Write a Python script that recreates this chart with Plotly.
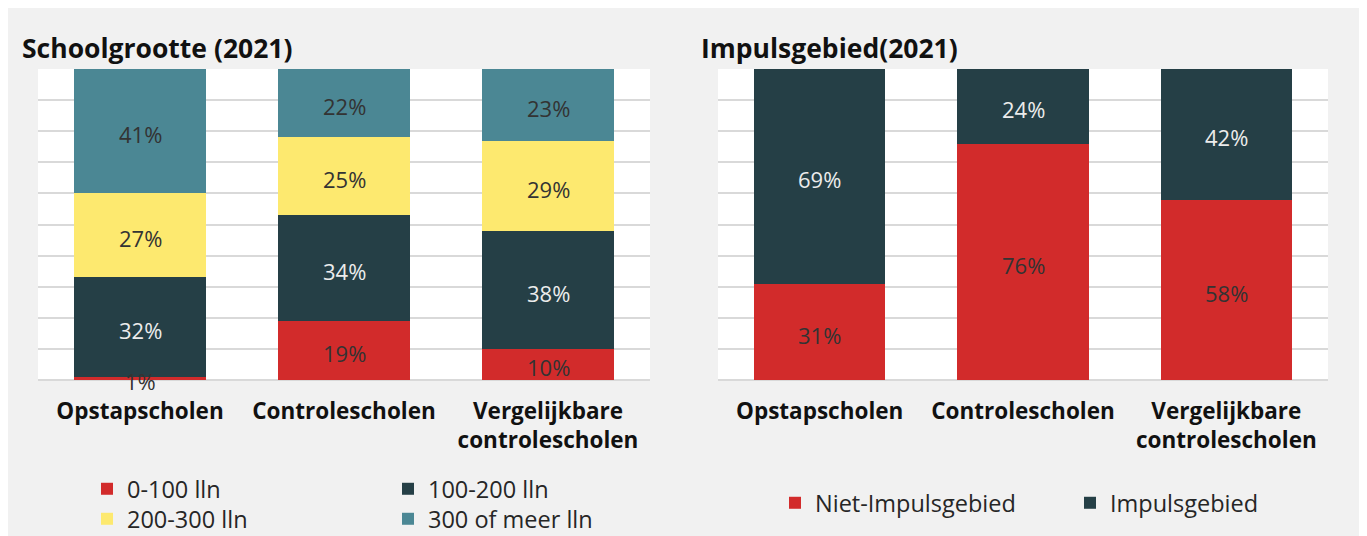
import plotly.graph_objects as go

OFF = 8  # page body margin
SW, SH = 1367, 536
W, H = SW - OFF, SH - OFF
# plot area in screen pixels
PX0, PX1, PY0, PY1 = 38, 1328, 69, 380
ML, MR, MT, MB = PX0 - OFF, SW - PX1, PY0 - OFF, SH - PY1

categories = ["Opstapscholen", "Controlescholen", "Vergelijkbare<br>controlescholen"]

# Schoolgrootte (2021)
size_names = ["0-100 lln", "100-200 lln", "200-300 lln", "300 of meer lln"]
size_0_100 = [1, 19, 10]
size_100_200 = [32, 34, 38]
size_200_300 = [27, 25, 29]
size_300_plus = [41, 22, 23]

# Impulsgebied (2021)
impuls_names = ["Niet-Impulsgebied", "Impulsgebied"]
niet_impuls = [31, 76, 58]
impuls = [69, 24, 42]

RED = "#d22b2b"
DARK = "#253f46"
YELLOW = "#fde96f"
TEAL = "#4b8794"
DARKTXT = "#333333"
LIGHTTXT = "#ececec"
FONT = "Open Sans"
YMAX = 100

fig = go.Figure()
label_annotations = []


def add_bar(vals, name, color, xaxis, yaxis, legend):
    fig.add_trace(go.Bar(
        x=categories, y=vals, name=name,
        marker=dict(color=color, line=dict(width=0)),
        xaxis=xaxis, yaxis=yaxis, legend=legend, hoverinfo="skip",
    ))


def add_labels(series, colors, xref, yref):
    base = [0] * len(categories)
    for vals, col in zip(series, colors):
        for j, v in enumerate(vals):
            top = min(base[j] + v, YMAX)
            label_annotations.append(dict(
                x=categories[j], y=(base[j] + top) / 2, xref=xref, yref=yref,
                text=f"{v}%", showarrow=False, yshift=-3,
                font=dict(color=col, size=22, family=FONT),
            ))
            base[j] += v


add_bar(size_0_100, size_names[0], RED, "x", "y", "legend")
add_bar(size_100_200, size_names[1], DARK, "x", "y", "legend")
add_bar(size_200_300, size_names[2], YELLOW, "x", "y", "legend2")
add_bar(size_300_plus, size_names[3], TEAL, "x", "y", "legend2")
add_bar(niet_impuls, impuls_names[0], RED, "x2", "y2", "legend3")
add_bar(impuls, impuls_names[1], DARK, "x2", "y2", "legend3")
add_labels([size_0_100, size_100_200, size_200_300, size_300_plus],
           [DARKTXT, LIGHTTXT, DARKTXT, DARKTXT], "x", "y")
add_labels([niet_impuls, impuls], [DARKTXT, LIGHTTXT], "x2", "y2")

pw = PX1 - PX0
ph = PY1 - PY0


def px_x(p):
    return (p - PX0) / pw


def px_y(p):
    return (PY1 - p) / ph


axis_common = dict(
    tickfont=dict(family=FONT, size=22.5, color="#111111", weight="bold"),
    ticks="outside", ticklen=11, tickcolor="rgba(0,0,0,0)",
    showgrid=False, showline=False, fixedrange=True,
)
yaxis_common = dict(
    range=[0, YMAX], dtick=10, showticklabels=False, showgrid=True,
    gridcolor="#d9d9d9", gridwidth=2, zeroline=True, zerolinecolor="#d9d9d9",
    zerolinewidth=2, fixedrange=True,
)

leg_common = dict(
    orientation="h", bgcolor="rgba(0,0,0,0)", borderwidth=0,
    font=dict(family=FONT, size=23.5, color="#262626"),
    xanchor="left", yanchor="middle", entrywidth=256, itemwidth=30,
    traceorder="normal",
)

title_annotations = [
    dict(text="<b>Schoolgrootte (2021)</b>", xref="paper", yref="paper",
         x=px_x(20), y=px_y(48), xanchor="left", yanchor="middle",
         showarrow=False, font=dict(family=FONT, size=26.5, color="#111111")),
    dict(text="<b>Impulsgebied(2021)</b>", xref="paper", yref="paper",
         x=px_x(699), y=px_y(48), xanchor="left", yanchor="middle",
         showarrow=False, font=dict(family=FONT, size=26.5, color="#111111")),
]

fig.update_layout(
    width=W, height=H,
    margin=dict(l=ML, r=MR, t=MT, b=MB, autoexpand=False),
    paper_bgcolor="#f1f1f1", plot_bgcolor="white",
    barmode="stack", bargap=0.353,
    font=dict(family=FONT),
    xaxis=dict(domain=[0, px_x(650)], anchor="y", **axis_common),
    yaxis=dict(domain=[0, 1], anchor="x", **yaxis_common),
    xaxis2=dict(domain=[px_x(718), 1], anchor="y2", **axis_common),
    yaxis2=dict(domain=[0, 1], anchor="x2", **yaxis_common),
    legend=dict(x=px_x(87), y=px_y(489), **leg_common),
    legend2=dict(x=px_x(87), y=px_y(519), **leg_common),
    legend3=dict(x=px_x(775), y=px_y(503), **{**leg_common, "entrywidth": 250}),
    showlegend=True,
    annotations=title_annotations + label_annotations,
)

fig.write_html("out.html")
